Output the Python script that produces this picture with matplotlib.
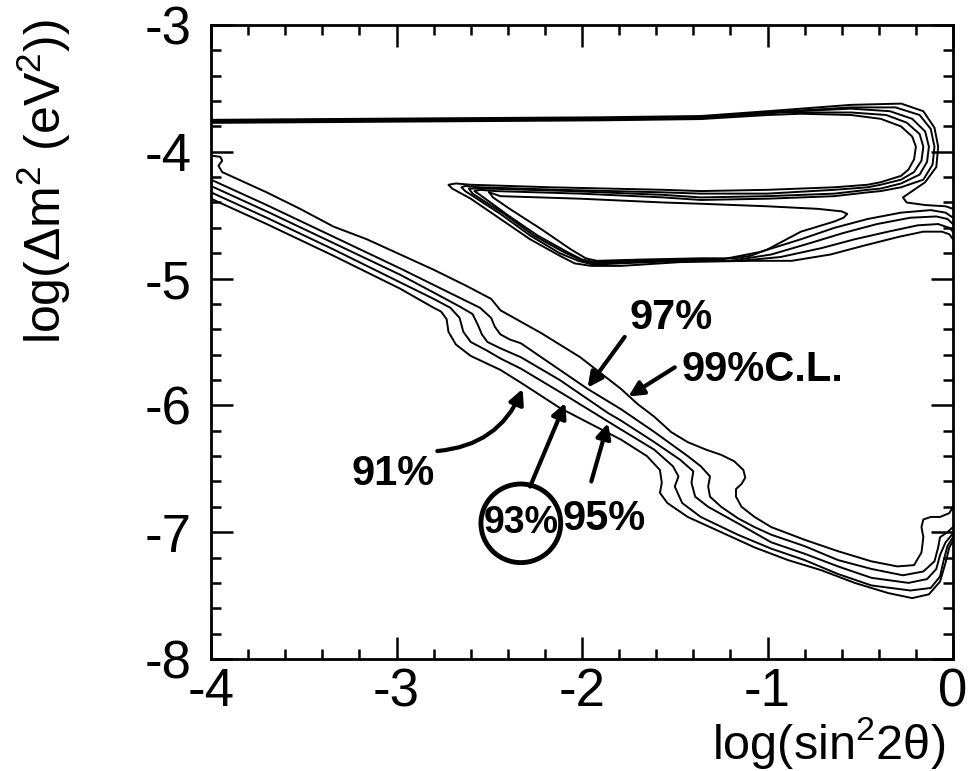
import matplotlib.pyplot as plt
from matplotlib.patches import Ellipse

# upper allowed region: one contour per C.L. (top line, loop, return to the tip, hypotenuse, bottom, fan to the right edge)
upper_x91 = [-4.00, -2.98, -1.90, -1.36, -1.00, -0.82, -0.55, -0.39, -0.28, -0.22, -0.20, -0.21, -0.24, -0.28,
             -0.39, -0.46, -0.64, -1.00, -1.36, -1.56, -2.17, -2.60, -2.68, -2.72, -2.70, -2.60, -2.44, -2.28,
             -2.12, -2.04, -1.95, -1.79, -1.47, -1.09, -0.87, -0.66, -0.48, -0.29, -0.16, -0.06, -0.02, 0.00]
upper_y91 = [-3.772, -3.762, -3.752, -3.742, -3.71, -3.70, -3.71, -3.74, -3.80, -3.88, -3.96, -4.06, -4.14, -4.19,
             -4.24, -4.26, -4.28, -4.30, -4.31, -4.30, -4.28, -4.26, -4.25, -4.26, -4.29, -4.37, -4.53, -4.69,
             -4.82, -4.88, -4.90, -4.90, -4.87, -4.86, -4.86, -4.81, -4.74, -4.67, -4.63, -4.63, -4.65, -4.69]

upper_x93 = [-4.00, -2.98, -1.90, -1.36, -0.93, -0.55, -0.36, -0.25, -0.18, -0.16, -0.17, -0.21, -0.28, -0.39,
             -0.46, -0.64, -1.00, -1.36, -1.56, -2.12, -2.55, -2.63, -2.65, -2.63, -2.44, -2.28, -2.12, -2.02,
             -1.94, -1.79, -1.47, -1.15, -0.93, -0.71, -0.53, -0.35, -0.19, -0.08, -0.02, 0.00]
upper_y93 = [-3.766, -3.756, -3.746, -3.736, -3.69, -3.69, -3.71, -3.77, -3.86, -3.96, -4.07, -4.16, -4.22, -4.26,
             -4.28, -4.30, -4.33, -4.33, -4.32, -4.30, -4.28, -4.27, -4.28, -4.31, -4.49, -4.66, -4.80, -4.86,
             -4.89, -4.88, -4.86, -4.86, -4.83, -4.76, -4.69, -4.63, -4.58, -4.57, -4.60, -4.63]

upper_x95 = [-4.00, -2.98, -1.90, -1.36, -0.98, -0.55, -0.34, -0.22, -0.15, -0.13, -0.14, -0.18, -0.28, -0.39,
             -0.46, -0.64, -1.00, -1.36, -1.56, -2.06, -2.52, -2.59, -2.61, -2.59, -2.42, -2.26, -2.10, -2.01,
             -1.94, -1.79, -1.47, -1.20, -0.98, -0.77, -0.59, -0.41, -0.23, -0.09, -0.03, 0.00]
upper_y95 = [-3.760, -3.750, -3.740, -3.730, -3.69, -3.66, -3.68, -3.74, -3.84, -3.96, -4.08, -4.18, -4.25, -4.29,
             -4.30, -4.33, -4.35, -4.36, -4.34, -4.31, -4.29, -4.29, -4.29, -4.33, -4.49, -4.66, -4.79, -4.85,
             -4.88, -4.87, -4.86, -4.86, -4.81, -4.72, -4.64, -4.57, -4.52, -4.51, -4.53, -4.57]

upper_x97 = [-4.00, -2.98, -1.90, -1.36, -1.00, -0.55, -0.31, -0.18, -0.12, -0.10, -0.11, -0.16, -0.28, -0.39,
             -0.46, -0.64, -1.00, -1.36, -1.56, -2.01, -2.47, -2.55, -2.58, -2.55, -2.40, -2.24, -2.08, -2.00,
             -1.93, -1.79, -1.47, -1.25, -1.04, -0.82, -0.64, -0.46, -0.28, -0.12, -0.04, 0.00]
upper_y97 = [-3.754, -3.744, -3.734, -3.724, -3.69, -3.65, -3.65, -3.71, -3.82, -3.96, -4.10, -4.22, -4.28, -4.31,
             -4.32, -4.35, -4.37, -4.38, -4.36, -4.33, -4.31, -4.30, -4.31, -4.34, -4.50, -4.66, -4.79, -4.85,
             -4.87, -4.86, -4.85, -4.85, -4.79, -4.69, -4.60, -4.53, -4.48, -4.46, -4.48, -4.52]

upper_x99 = [-4.00, -2.98, -1.90, -1.36, -1.00, -0.55, -0.28, -0.16, -0.10, -0.08, -0.09, -0.15, -0.23, -0.27,
             -0.25, -0.15, -0.04, 0.00]
upper_y99 = [-3.748, -3.738, -3.728, -3.718, -3.68, -3.63, -3.62, -3.68, -3.81, -3.96, -4.12, -4.24, -4.32, -4.36,
             -4.40, -4.42, -4.43, -4.45]

# 99% C.L. closes around the triangle instead of reaching the right edge
hole_x99 = [-2.50, -2.44, -2.01, -1.56, -1.36, -1.00, -0.73, -0.60, -0.57, -0.59, -0.64, -0.73, -0.82, -0.91,
            -1.00, -1.09, -1.18, -1.36, -1.68, -1.92, -1.98, -2.06, -2.22, -2.39, -2.48, -2.50]
hole_y99 = [-4.32, -4.35, -4.37, -4.40, -4.41, -4.43, -4.45, -4.47, -4.49, -4.52, -4.55, -4.59, -4.63, -4.70,
            -4.77, -4.82, -4.84, -4.84, -4.85, -4.86, -4.84, -4.77, -4.61, -4.45, -4.36, -4.32]

# lower (small angle) band
lower_x99 = [-4.00, -3.95, -3.94, -3.96, -3.94, -3.88, -3.70, -3.52, -3.34, -3.16, -2.98, -2.80, -2.62, -2.49,
             -2.44, -2.33, -2.22, -2.01, -1.79, -1.70, -1.61, -1.52, -1.43, -1.33, -1.25, -1.18, -1.13, -1.12,
             -1.14, -1.17, -1.17, -1.14, -1.07, -0.98, -0.80, -0.62, -0.44, -0.30, -0.21, -0.17, -0.16, -0.17,
             -0.16, -0.12, -0.07, -0.02, 0.00]
lower_y99 = [-4.03, -4.04, -4.07, -4.11, -4.16, -4.20, -4.32, -4.45, -4.59, -4.69, -4.81, -4.93, -5.06, -5.16,
             -5.25, -5.34, -5.43, -5.62, -5.87, -5.99, -6.09, -6.21, -6.29, -6.35, -6.39, -6.44, -6.51, -6.57,
             -6.62, -6.66, -6.72, -6.80, -6.88, -6.96, -7.06, -7.15, -7.23, -7.27, -7.26, -7.16, -7.04, -6.96,
             -6.90, -6.88, -6.88, -6.85, -6.80]

lower_x97 = [-4.00, -3.70, -3.34, -2.98, -2.80, -2.62, -2.55, -2.49, -2.47, -2.44, -2.39, -2.33, -2.12, -1.97,
             -1.79, -1.61, -1.43, -1.36, -1.31, -1.32, -1.31, -1.25, -1.16, -1.07, -0.98, -0.80, -0.62, -0.44,
             -0.27, -0.16, -0.10, -0.08, -0.07, -0.03, 0.00]
lower_y97 = [-4.22, -4.42, -4.67, -4.92, -5.05, -5.18, -5.23, -5.31, -5.38, -5.44, -5.48, -5.51, -5.72, -5.87,
             -6.03, -6.21, -6.40, -6.48, -6.56, -6.64, -6.72, -6.80, -6.89, -6.96, -7.02, -7.11, -7.22, -7.29,
             -7.34, -7.31, -7.23, -7.12, -7.04, -7.00, -6.96]

lower_x95 = [-4.00, -3.70, -3.34, -2.98, -2.80, -2.66, -2.59, -2.56, -2.54, -2.51, -2.44, -2.33, -2.12, -1.86,
             -1.79, -1.61, -1.47, -1.40, -1.41, -1.39, -1.32, -1.16, -0.98, -0.80, -0.62, -0.44, -0.24, -0.14,
             -0.09, -0.07, -0.04, 0.00]
lower_y95 = [-4.27, -4.47, -4.72, -4.97, -5.11, -5.22, -5.28, -5.37, -5.44, -5.50, -5.55, -5.62, -5.80, -6.06,
             -6.12, -6.29, -6.43, -6.52, -6.61, -6.72, -6.80, -6.93, -7.08, -7.17, -7.27, -7.36, -7.40, -7.37,
             -7.29, -7.18, -7.08, -7.01]

lower_x93 = [-4.00, -3.70, -3.34, -2.98, -2.80, -2.71, -2.66, -2.64, -2.60, -2.51, -2.44, -2.33, -2.09, -1.79,
             -1.61, -1.51, -1.48, -1.50, -1.46, -1.36, -1.16, -0.98, -0.80, -0.62, -0.44, -0.23, -0.12, -0.07,
             -0.05, -0.03, 0.00]
lower_y93 = [-4.32, -4.52, -4.77, -5.03, -5.16, -5.23, -5.31, -5.42, -5.50, -5.57, -5.63, -5.71, -5.92, -6.19,
             -6.35, -6.48, -6.56, -6.64, -6.77, -6.88, -7.02, -7.13, -7.22, -7.33, -7.42, -7.46, -7.44, -7.35,
             -7.22, -7.11, -7.04]

lower_x91 = [-4.00, -3.70, -3.34, -2.98, -2.80, -2.76, -2.73, -2.72, -2.68, -2.60, -2.44, -2.32, -2.12, -1.79,
             -1.65, -1.58, -1.57, -1.58, -1.54, -1.43, -1.25, -1.07, -0.89, -0.71, -0.53, -0.35, -0.22, -0.13,
             -0.07, -0.04, -0.02, 0.00]
lower_y91 = [-4.37, -4.57, -4.82, -5.08, -5.23, -5.26, -5.32, -5.42, -5.52, -5.61, -5.72, -5.83, -6.02, -6.27,
             -6.40, -6.51, -6.61, -6.69, -6.77, -6.88, -7.00, -7.12, -7.22, -7.30, -7.40, -7.48, -7.52, -7.49,
             -7.39, -7.24, -7.12, -7.07]

curves = [(upper_x91, upper_y91), (upper_x93, upper_y93), (upper_x95, upper_y95), (upper_x97, upper_y97),
          (upper_x99, upper_y99), (hole_x99, hole_y99),
          (lower_x99, lower_y99), (lower_x97, lower_y97), (lower_x95, lower_y95),
          (lower_x93, lower_y93), (lower_x91, lower_y91)]

# handwritten notes: text, text centre, arrow start, arrow tip, arrow bend
notes = ['97%', '99%C.L.', '91%', '93%', '95%']
note_pos = [(-1.52, -5.31), (-1.03, -5.72), (-3.02, -6.54), (-2.33, -6.93), (-1.88, -6.90)]
note_size = [30, 30, 30, 27, 30]
arrow_from = [(-1.77, -5.46), (-1.50, -5.70), (-2.78, -6.36), (-2.28, -6.64), (-1.95, -6.60)]
arrow_to = [(-1.97, -5.86), (-1.75, -5.93), (-2.32, -5.87), (-2.09, -5.98), (-1.86, -6.14)]
arrow_bend = [0.0, 0.0, 0.3, 0.0, 0.0]

plt.rcParams['font.family'] = ['Liberation Sans Narrow', 'Liberation Sans', 'DejaVu Sans']
plt.rcParams['axes.unicode_minus'] = False
plt.rcParams['mathtext.default'] = 'regular'

fig = plt.figure(figsize=(9.69, 7.71), dpi=100)
ax = fig.add_axes([0.2178, 0.1453, 0.7657, 0.8223])

for xs, ys in curves:
    ax.plot(xs, ys, color='k', lw=1.4, solid_joinstyle='round')

for txt, pos, fs in zip(notes, note_pos, note_size):
    ax.text(pos[0], pos[1], txt, fontsize=fs, fontweight='bold', ha='center', va='center')
for a, b, r in zip(arrow_from, arrow_to, arrow_bend):
    ax.annotate('', xy=b, xytext=a,
                arrowprops=dict(arrowstyle='-|>', lw=3, color='k', mutation_scale=22,
                                shrinkA=0, shrinkB=0, connectionstyle='arc3,rad=%s' % r))
ax.add_patch(Ellipse(note_pos[3], 0.43, 0.62, fill=False, lw=3.5, color='k'))

ax.set_xlim(-4, 0)
ax.set_ylim(-8, -3)
ax.set_xticks([-4, -3, -2, -1, 0])
ax.set_yticks([-8, -7, -6, -5, -4, -3])
ax.set_xticks([-4 + 0.2 * i for i in range(21)], minor=True)
ax.set_yticks([-8 + 0.2 * i for i in range(26)], minor=True)
ax.tick_params(which='both', direction='in', top=True, right=True, width=1.8)
ax.tick_params(which='major', length=16, labelsize=38)
ax.tick_params(which='minor', length=7)
ax.tick_params(axis='x', pad=6)
ax.tick_params(axis='y', pad=14)
for s in ax.spines.values():
    s.set_linewidth(2)

fig.text(0.975, 0.0, r'log(sin$^2$2$\theta$)', fontsize=35, ha='right', va='bottom')
fig.text(0.045, 0.975, r'log($\Delta$m$^2$ (eV$^2$))', fontsize=36, rotation=90, ha='center', va='top')

fig.savefig('out.png', dpi=100)
